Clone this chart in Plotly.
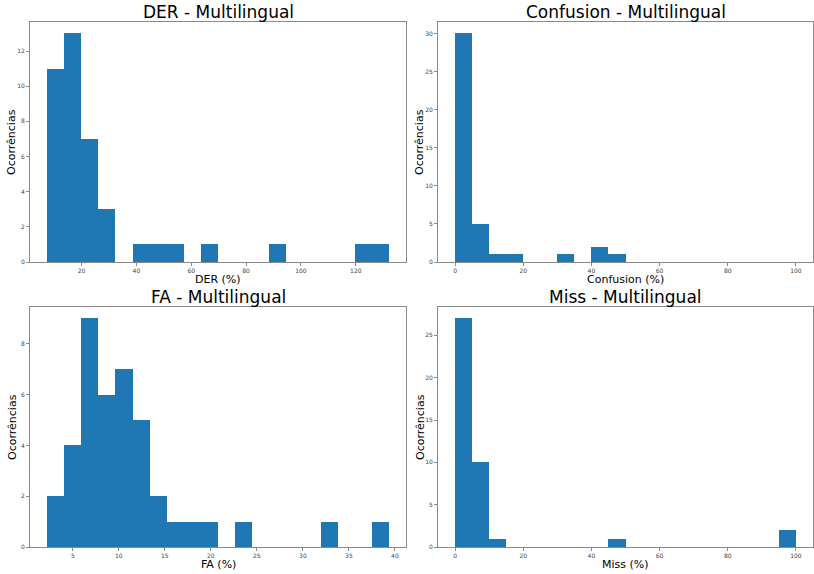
import plotly.graph_objects as go

# ---- data (histogram counts, 20 bins each) ----
der_counts = [11, 13, 7, 3, 0, 1, 1, 1, 0, 1, 0, 0, 0, 1, 0, 0, 0, 0, 1, 1]
der_range = [7.44, 132.07]

conf_counts = [30, 5, 1, 1, 0, 0, 1, 0, 2, 1, 0, 0, 0, 0, 0, 0, 0, 0, 0, 0]
conf_range = [0, 100]

fa_counts = [2, 4, 9, 6, 7, 5, 2, 1, 1, 1, 0, 1, 0, 0, 0, 0, 1, 0, 0, 1]
fa_range = [2.20, 39.35]

miss_counts = [27, 10, 1, 0, 0, 0, 0, 0, 0, 1, 0, 0, 0, 0, 0, 0, 0, 0, 0, 2]
miss_range = [0, 100]

titles = ["DER - Multilingual", "Confusion - Multilingual", "FA - Multilingual", "Miss - Multilingual"]
xlabels = ["DER (%)", "Confusion (%)", "FA (%)", "Miss (%)"]
ylabel = "Ocorrências"
xdticks = [20, 20, 5, 20]
ydticks = [2, 5, 2, 5]

panels = [(der_counts, der_range), (conf_counts, conf_range), (fa_counts, fa_range), (miss_counts, miss_range)]

W, H = 814, 574
# pixel boxes (left, top, right, bottom)
boxes = [(30, 22, 406, 262), (438, 22, 813, 262), (30, 307, 406, 547), (438, 307, 813, 547)]

BLUE = "#1f77b4"
SPINE = "#8a8a8a"

fig = go.Figure()
annotations = []
layout = {}
for i, ((counts, rng), box) in enumerate(zip(panels, boxes)):
    n = len(counts)
    w = (rng[1] - rng[0]) / n
    centers = [rng[0] + w * (k + 0.5) for k in range(n)]
    ax = "" if i == 0 else str(i + 1)
    fig.add_trace(go.Bar(
        x=centers, y=counts, width=[w] * n,
        marker=dict(color=BLUE, line=dict(width=0)),
        xaxis="x" + ax, yaxis="y" + ax, showlegend=False,
        hovertemplate="%{y}<extra></extra>",
    ))
    left, top, right, bottom = box
    margin = 0.05 * (rng[1] - rng[0])
    ymax = max(counts) * 1.05
    common = dict(showline=True, mirror=True, linecolor=SPINE, linewidth=1,
                  ticks="outside", ticklen=3, tickcolor=SPINE, tickwidth=1,
                  showgrid=False, zeroline=False, automargin=False,
                  tickfont=dict(family="DejaVu Sans", size=6, color="#444444"))
    layout["xaxis" + ax] = dict(domain=[left / W, right / W], anchor="y" + ax,
                                range=[rng[0] - margin, rng[1] + margin],
                                tick0=0, dtick=xdticks[i], **common)
    layout["yaxis" + ax] = dict(domain=[1 - bottom / H, 1 - top / H], anchor="x" + ax,
                                range=[0, ymax], tick0=0, dtick=ydticks[i], **common)
    cx = (left + right) / 2
    annotations.append(dict(text=titles[i], x=cx / W, y=1 - (top - 10) / H,
                            xref="paper", yref="paper", showarrow=False,
                            xanchor="center", yanchor="middle",
                            font=dict(family="DejaVu Sans", size=17, color="black")))
    annotations.append(dict(text=xlabels[i], x=cx / W, y=1 - (bottom + 17) / H,
                            xref="paper", yref="paper", showarrow=False,
                            xanchor="center", yanchor="middle",
                            font=dict(family="DejaVu Sans", size=11, color="black")))
    annotations.append(dict(text=ylabel, x=(left - 18) / W, y=1 - ((top + bottom) / 2) / H,
                            xref="paper", yref="paper", showarrow=False, textangle=-90,
                            xanchor="center", yanchor="middle",
                            font=dict(family="DejaVu Sans", size=11, color="black")))

fig.update_layout(width=W, height=H, margin=dict(l=0, r=0, t=0, b=0),
                  paper_bgcolor="white", plot_bgcolor="white", bargap=0,
                  annotations=annotations, **layout)
fig.write_html("out.html", config={"displayModeBar": False},
               post_script="document.body.style.margin='0';document.body.style.overflow='hidden';")
